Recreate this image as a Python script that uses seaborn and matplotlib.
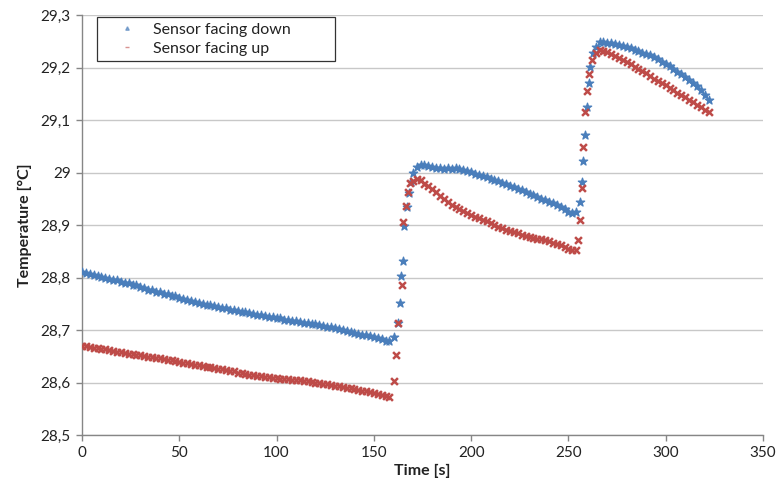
import matplotlib
matplotlib.use("Agg")
import matplotlib.pyplot as plt
import seaborn as sns
import pandas as pd
from matplotlib.ticker import FixedLocator, FixedFormatter
from matplotlib.lines import Line2D

# ---------------- data ----------------
series_names = ["Sensor facing down", "Sensor facing up"]

# segment 1 (before first step)
time_seg1 = [0, 2, 4, 6, 8, 10, 12, 14, 16, 18, 20, 22, 24, 26, 28, 30, 32, 34, 36, 38,
             40, 42, 44, 46, 48, 50, 52, 54, 56, 58, 60, 62, 64, 66, 68, 70, 72, 74, 76, 78,
             80, 82, 84, 86, 88, 90, 92, 94, 96, 98, 100, 102, 104, 106, 108, 110, 112, 114, 116, 118,
             120, 122, 124, 126, 128, 130, 132, 134, 136, 138, 140, 142, 144, 146, 148, 150, 152, 154, 156, 158]
down_seg1 = [28.810, 28.808, 28.807, 28.805, 28.803, 28.801, 28.800, 28.797, 28.796, 28.795,
             28.792, 28.790, 28.789, 28.786, 28.785, 28.781, 28.780, 28.777, 28.776, 28.773,
             28.772, 28.769, 28.768, 28.765, 28.764, 28.761, 28.759, 28.758, 28.755, 28.754,
             28.751, 28.750, 28.748, 28.747, 28.745, 28.744, 28.742, 28.741, 28.739, 28.738,
             28.736, 28.735, 28.734, 28.732, 28.730, 28.729, 28.728, 28.727, 28.725, 28.724,
             28.723, 28.722, 28.720, 28.719, 28.718, 28.717, 28.716, 28.714, 28.713, 28.712,
             28.711, 28.710, 28.708, 28.706, 28.705, 28.703, 28.701, 28.700, 28.698, 28.697,
             28.695, 28.693, 28.691, 28.690, 28.688, 28.686, 28.684, 28.682, 28.680, 28.679]
up_seg1 = [28.670, 28.669, 28.668, 28.666, 28.665, 28.664, 28.663, 28.661, 28.660, 28.659,
           28.658, 28.656, 28.655, 28.654, 28.653, 28.652, 28.651, 28.649, 28.648, 28.647,
           28.646, 28.644, 28.643, 28.642, 28.641, 28.640, 28.638, 28.637, 28.636, 28.634,
           28.633, 28.632, 28.630, 28.629, 28.628, 28.626, 28.625, 28.623, 28.622, 28.621,
           28.619, 28.618, 28.616, 28.615, 28.614, 28.613, 28.612, 28.611, 28.610, 28.609,
           28.608, 28.607, 28.607, 28.606, 28.605, 28.604, 28.604, 28.603, 28.602, 28.601,
           28.600, 28.599, 28.598, 28.597, 28.595, 28.594, 28.593, 28.591, 28.590, 28.589,
           28.587, 28.586, 28.584, 28.583, 28.581, 28.580, 28.578, 28.577, 28.575, 28.573]

# first step
time_jump1_down = [160.5, 162.4, 163.4, 164.2, 164.8, 165.6, 167.0, 168.0, 169.0]
down_jump1 = [28.686, 28.713, 28.751, 28.803, 28.831, 28.898, 28.934, 28.961, 28.982]
time_jump1_up = [160.2, 161.2, 162.6, 164.4, 165.0, 166.5, 167.5, 168.5]
up_jump1 = [28.603, 28.652, 28.713, 28.786, 28.906, 28.936, 28.963, 28.980]

# segment 2
time_seg2 = [170, 172, 174, 176, 178, 180, 182, 184, 186, 188, 190, 192, 194, 196, 198, 200,
             202, 204, 206, 208, 210, 212, 214, 216, 218, 220, 222, 224, 226, 228, 230, 232,
             234, 236, 238, 240, 242, 244, 246, 248, 250, 252, 254]
down_seg2 = [29.000, 29.010, 29.015, 29.014, 29.012, 29.010, 29.009, 29.008, 29.007, 29.009,
             29.007, 29.008, 29.006, 29.004, 29.003, 29.001, 28.998, 28.996, 28.993, 28.991,
             28.988, 28.986, 28.983, 28.980, 28.978, 28.975, 28.972, 28.969, 28.966, 28.963,
             28.960, 28.957, 28.953, 28.950, 28.947, 28.944, 28.941, 28.938, 28.934, 28.930,
             28.925, 28.922, 28.924]
up_seg2 = [28.984, 28.987, 28.985, 28.979, 28.974, 28.968, 28.962, 28.956, 28.950, 28.944,
           28.939, 28.935, 28.930, 28.926, 28.922, 28.919, 28.916, 28.913, 28.910, 28.907,
           28.903, 28.900, 28.897, 28.894, 28.891, 28.889, 28.886, 28.884, 28.881, 28.879,
           28.878, 28.876, 28.874, 28.873, 28.871, 28.869, 28.866, 28.864, 28.861, 28.858,
           28.855, 28.852, 28.852]

# second step
time_jump2_down = [255.8, 256.8, 257.6, 258.5, 259.3, 260.5, 261.2, 262.6]
down_jump2 = [28.944, 28.981, 29.021, 29.071, 29.124, 29.170, 29.201, 29.228]
time_jump2_up = [255.0, 255.9, 256.8, 257.3, 258.5, 259.3, 260.7, 261.9]
up_jump2 = [28.871, 28.910, 28.970, 29.049, 29.116, 29.156, 29.188, 29.214]

# segment 3
time_seg3 = [264, 266, 268, 270, 272, 274, 276, 278, 280, 282, 284, 286, 288, 290, 292,
             294, 296, 298, 300, 302, 304, 306, 308, 310, 312, 314, 316, 318, 320, 322]
down_seg3 = [29.240, 29.248, 29.249, 29.247, 29.246, 29.245, 29.243, 29.241, 29.239, 29.237,
             29.233, 29.231, 29.228, 29.226, 29.224, 29.220, 29.216, 29.211, 29.207, 29.202,
             29.198, 29.192, 29.187, 29.181, 29.176, 29.170, 29.164, 29.158, 29.147, 29.138]
up_seg3 = [29.228, 29.233, 29.232, 29.229, 29.226, 29.222, 29.219, 29.215, 29.210, 29.206,
           29.201, 29.197, 29.193, 29.189, 29.184, 29.179, 29.175, 29.170, 29.166, 29.161,
           29.157, 29.152, 29.148, 29.143, 29.139, 29.134, 29.129, 29.125, 29.120, 29.116]

y_ticks = [28.5, 28.6, 28.7, 28.8, 28.9, 29.0, 29.1, 29.2, 29.3]
y_tick_labels = ["28,5", "28,6", "28,7", "28,8", "28,9", "29", "29,1", "29,2", "29,3"]
x_ticks = [0, 50, 100, 150, 200, 250, 300, 350]
x_tick_labels = ["0", "50", "100", "150", "200", "250", "300", "350"]

# ---------------- build table ----------------
t_down = time_seg1 + time_jump1_down + time_seg2 + time_jump2_down + time_seg3
v_down = down_seg1 + down_jump1 + down_seg2 + down_jump2 + down_seg3
t_up = time_seg1 + time_jump1_up + time_seg2 + time_jump2_up + time_seg3
v_up = up_seg1 + up_jump1 + up_seg2 + up_jump2 + up_seg3

df = pd.concat([
    pd.DataFrame({"Time": t_down, "Temperature": v_down, "Series": series_names[0]}),
    pd.DataFrame({"Time": t_up, "Temperature": v_up, "Series": series_names[1]}),
], ignore_index=True)

# ---------------- plot ----------------
sns.set_theme(style="white")
plt.rcParams["font.family"] = ["Lato", "DejaVu Sans"]

blue = "#4A7EBB"
red = "#BE4B48"
palette = {series_names[0]: blue, series_names[1]: red}

fig = plt.figure(figsize=(7.82, 4.97), dpi=100)
ax = fig.add_axes([82 / 782, 1 - 435 / 497, (763 - 82) / 782, (435 - 15) / 497])

for name, mk, sz, lw in [(series_names[0], "*", 40, 0.9), (series_names[1], "x", 24, 1.8)]:
    sub = df[df["Series"] == name]
    sns.scatterplot(data=sub, x="Time", y="Temperature", color=palette[name],
                    marker=mk, s=sz, linewidth=lw, edgecolor=palette[name],
                    ax=ax, legend=False, zorder=3)

ax.set_xlim(0, 350)
ax.set_ylim(28.5, 29.3)
ax.yaxis.set_major_locator(FixedLocator(y_ticks))
ax.yaxis.set_major_formatter(FixedFormatter(y_tick_labels))
ax.xaxis.set_major_locator(FixedLocator(x_ticks))
ax.xaxis.set_major_formatter(FixedFormatter(x_tick_labels))

ax.grid(axis="y", color="#c8c8c8", linewidth=1.0)
ax.grid(axis="x", visible=False)
ax.set_axisbelow(True)
for s in ["top", "right"]:
    ax.spines[s].set_visible(False)
for s in ["left", "bottom"]:
    ax.spines[s].set_color("#868686")
    ax.spines[s].set_linewidth(1.0)
ax.tick_params(axis="both", which="major", length=4, width=1, color="#868686",
               labelsize=11, labelcolor="#222222", direction="out", left=True, bottom=True, pad=4)

ax.set_xlabel("Time [s]", fontsize=11.5, fontweight="bold", color="#222222", labelpad=3)
ax.set_ylabel("Temperature [°C]", fontsize=11.5, fontweight="bold", color="#222222", labelpad=6)

handles = [
    Line2D([], [], linestyle="none", marker="^", markersize=2.5, color=blue, alpha=0.6),
    Line2D([], [], linestyle="none", marker="_", markersize=3, color=red, alpha=0.6),
]
leg = ax.legend(handles, series_names, loc="upper left",
                bbox_to_anchor=(0.022, 0.0, 0.349, 0.995), mode="expand",
                frameon=True, fancybox=False, edgecolor="#333333", framealpha=1,
                fontsize=11.5, handlelength=3.0, handletextpad=0.15, borderpad=0.35,
                labelspacing=0.3, borderaxespad=0)
leg.get_frame().set_linewidth(0.9)
for t in leg.get_texts():
    t.set_color("#222222")

fig.savefig("out.png", dpi=100)
